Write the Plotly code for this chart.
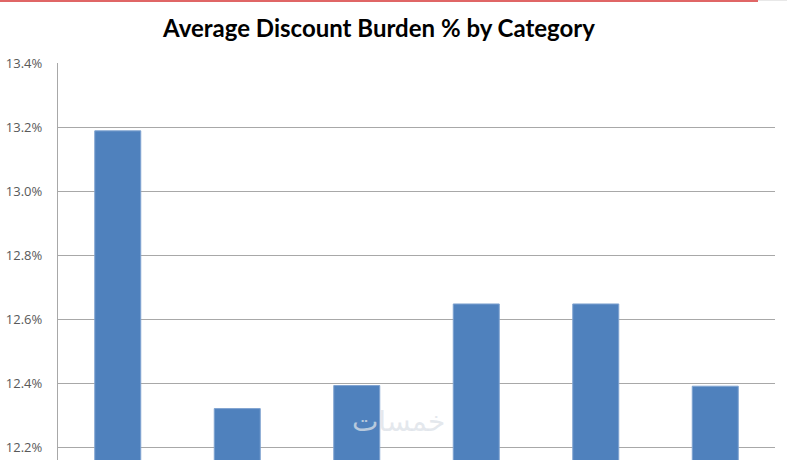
import plotly.graph_objects as go

categories = ["Category A", "Category B", "Category C", "Category D", "Category E", "Category F"]
discount_burden = [0.13188, 0.12320, 0.12392, 0.12647, 0.12647, 0.12390]
tick_vals = [0.122, 0.124, 0.126, 0.128, 0.130, 0.132, 0.134]
title_text = "Average Discount Burden % by Category"
y_title = "Discount %"
watermark = "خمسات"

W, H = 800, 460
L, R, T, B = 58, 25, 63, 0
pw, ph = W - L - R, H - T - B

def px_x(p):
    return (p - L) / pw

def px_y(p):
    return (H - B - p) / ph

fig = go.Figure()
fig.add_trace(go.Bar(
    x=categories, y=discount_burden,
    marker=dict(color="#4F81BD", line=dict(color="#7FA3D0", width=1)),
    hoverinfo="x+y",
))

fig.update_layout(
    width=W, height=H,
    margin=dict(l=L, r=R, t=T, b=B, autoexpand=False),
    paper_bgcolor="white", plot_bgcolor="white",
    bargap=0.615,
    showlegend=False,
    title=dict(text="<b>" + title_text + "</b>", x=379 / W, xanchor="center",
               y=1 - 29 / H, yanchor="middle",
               font=dict(family="Lato", size=24, color="#000000")),
    font=dict(family="Open Sans"),
)
fig.update_xaxes(showticklabels=False, showgrid=False, zeroline=False,
                 showline=False, ticks="", range=[-0.5, 5.5])
fig.update_yaxes(range=[0.122 - 13 / 32000, 0.134], tickvals=tick_vals,
                 tickformat=".1%", showgrid=True, gridcolor="#A8A8A8", gridwidth=1.3,
                 zeroline=False, showline=True, linecolor="#A8A8A8", linewidth=1.3,
                 ticks="", ticklabelstandoff=12,
                 tickfont=dict(family="Open Sans", size=13, color="#595959"))

# screenshot top border artifacts
fig.add_shape(type="line", xref="paper", yref="paper",
              x0=px_x(0), x1=px_x(758), y0=px_y(1), y1=px_y(1),
              line=dict(color="#E06666", width=2))
fig.add_shape(type="line", xref="paper", yref="paper",
              x0=px_x(758), x1=px_x(787), y0=px_y(0.5), y1=px_y(0.5),
              line=dict(color="#E8E8E8", width=1))

# y-axis title, clipped at the left edge as in the reference screenshot
fig.add_annotation(text=y_title, xref="paper", yref="paper",
                   x=px_x(3), y=px_y(316), xanchor="right", showarrow=False,
                   textangle=-90,
                   font=dict(family="Open Sans", size=12, color="#C8C8C8"))

fig.add_annotation(text=watermark, xref="paper", yref="paper",
                   x=px_x(398), y=px_y(440), showarrow=False,
                   font=dict(family="DejaVu Sans", size=28, color="rgba(220,225,232,0.75)"))

fig.write_html("out.html", config={"displayModeBar": False},
               post_script="document.body.style.margin='0';")
